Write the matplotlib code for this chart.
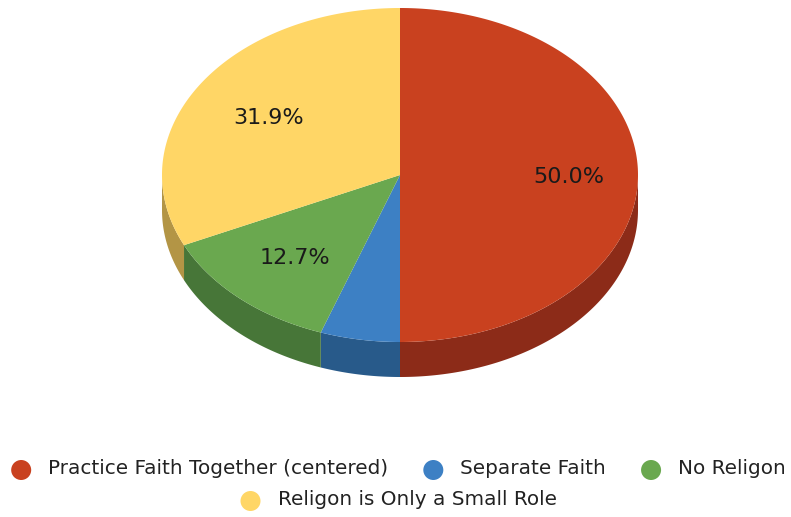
import numpy as np
import matplotlib
matplotlib.use("Agg")
import matplotlib.pyplot as plt
from matplotlib.patches import Polygon, Circle

plt.rcParams["font.family"] = ["DejaVu Sans"]

labels = ["Practice Faith Together (centered)", "Separate Faith", "No Religon",
          "Religon is Only a Small Role"]
values = [50.0, 5.4, 12.7, 31.9]
top_colors = ["#c9411f", "#3d80c4", "#6aa84f", "#ffd666"]
side_colors = ["#8c2b18", "#285a8a", "#477638", "#b39545"]

W, H = 791, 517
cx, cy, rx, ry, depth = 400, 175, 238, 167, 35


def arc(t0, t1, n=200):
    t = np.radians(np.linspace(t0, t1, n))
    return cx + rx * np.sin(t), cy - ry * np.cos(t)


fig = plt.figure(figsize=(W / 100, H / 100), dpi=100)
ax = fig.add_axes([0, 0, 1, 1])
ax.set_xlim(0, W)
ax.set_ylim(H, 0)
ax.axis("off")

total = sum(values)
bounds = np.concatenate([[0], np.cumsum(values) / total * 360])

# side walls (only the front half, 90..270 deg clockwise from top)
for i in range(len(values)):
    a0, a1 = max(bounds[i], 90), min(bounds[i + 1], 270)
    if a1 <= a0:
        continue
    x, y = arc(a0, a1)
    pts = np.column_stack([np.concatenate([x, x[::-1]]),
                           np.concatenate([y, y[::-1] + depth])])
    ax.add_patch(Polygon(pts, closed=True, fc=side_colors[i], ec="none"))

# top faces
for i in range(len(values)):
    x, y = arc(bounds[i], bounds[i + 1])
    pts = np.column_stack([np.concatenate([[cx], x]), np.concatenate([[cy], y])])
    ax.add_patch(Polygon(pts, closed=True, fc=top_colors[i], ec="none"))

# percentage labels
for i, v in enumerate(values):
    if v / total < 0.08:
        continue
    mid = np.radians((bounds[i] + bounds[i + 1]) / 2)
    r = 0.71 if v >= 50 else 0.655
    ax.text(cx + rx * r * np.sin(mid), cy - ry * r * np.cos(mid) + 8, f"{v:.1f}%",
            ha="center", va="baseline", fontsize=16, color="#1a1a1a")

# legend, two centered rows
fig.canvas.draw()
renderer = fig.canvas.get_renderer()
rows = [[0, 1, 2], [3]]
row_base = [474, 505]
gap, msize, mgap = 35, 10, 17
for row, yy in zip(rows, row_base):
    items = []
    for i in row:
        t = ax.text(0, yy, labels[i], fontsize=14.4, color="#222222",
                    ha="left", va="baseline")
        w = t.get_window_extent(renderer).width
        items.append((i, t, w))
    total_w = sum(2 * msize + mgap + w for _, _, w in items) + gap * (len(items) - 1)
    x = W / 2 - total_w / 2 + 3
    for i, t, w in items:
        ax.add_patch(Circle((x + msize, yy - 4), msize, fc=top_colors[i], ec="none"))
        t.set_x(x + 2 * msize + mgap)
        x += 2 * msize + mgap + w + gap

fig.savefig("out.png", dpi=100)
